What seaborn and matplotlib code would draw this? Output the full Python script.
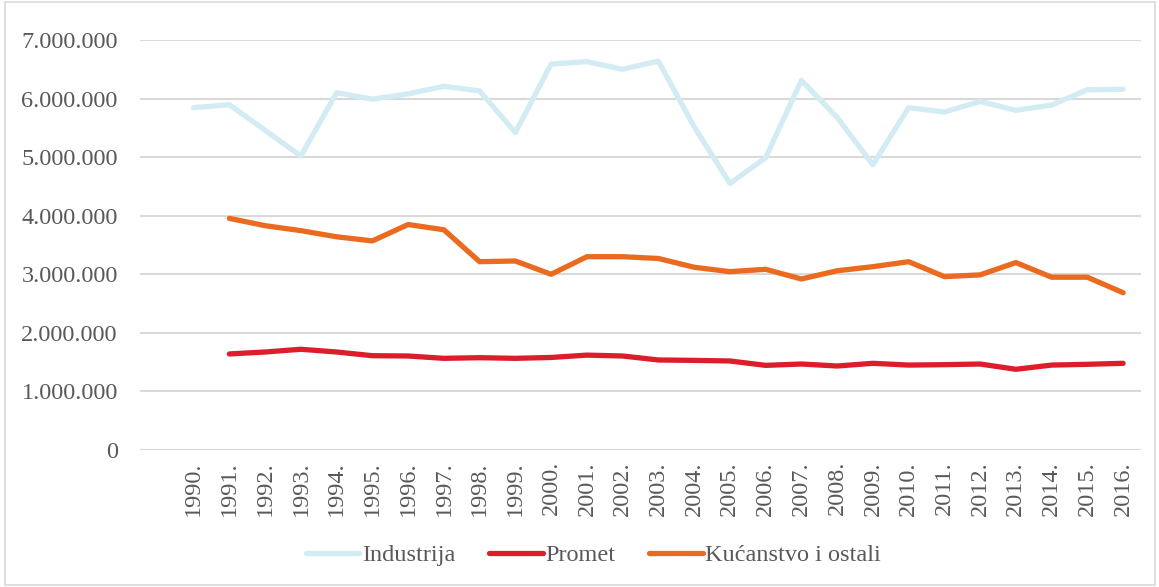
import numpy as np
import pandas as pd
import matplotlib
matplotlib.use("Agg")
import matplotlib.pyplot as plt
import seaborn as sns
from matplotlib.patches import Rectangle
from matplotlib.ticker import FuncFormatter

# Data
years = list(range(1990, 2017))
year_labels = [f"{y}." for y in years]

industrija = [5845000, 5896000, 5458000, 5020000, 6100000, 5990000, 6080000, 6210000, 6130000,
              5420000, 6590000, 6630000, 6500000, 6640000, 5520000, 4550000, 4990000, 6310000,
              5680000, 4870000, 5845000, 5770000, 5950000, 5800000, 5890000, 6150000, 6160000]
promet = [np.nan, 1640000, 1673000, 1720000, 1673000, 1610000, 1605000, 1565000, 1576000,
          1565000, 1580000, 1620000, 1605000, 1537000, 1530000, 1520000, 1445000, 1468000,
          1434000, 1480000, 1450000, 1457000, 1468000, 1378000, 1450000, 1463000, 1480000]
kucanstvo = [np.nan, 3955000, 3830000, 3745000, 3640000, 3570000, 3850000, 3760000, 3215000,
             3227000, 3000000, 3300000, 3300000, 3270000, 3120000, 3045000, 3085000, 2920000,
             3060000, 3130000, 3215000, 2960000, 2990000, 3200000, 2950000, 2950000, 2685000]

series_names = ["Industrija", "Promet", "Kućanstvo i ostali"]
colors = ["#d3ebf2", "#dc1e2a", "#ea6a20"]

# long format, x = slot index (slot 0 left empty like in the original)
rows = []
for name, vals in zip(series_names, [industrija, promet, kucanstvo]):
    for i, v in enumerate(vals):
        rows.append({"pos": i + 1, "value": v, "serie": name})
df = pd.DataFrame(rows).dropna()

sns.set_theme(style="white")
plt.rcParams["font.family"] = ["Liberation Serif", "DejaVu Serif"]

fig = plt.figure(figsize=(11.59, 5.87), dpi=100)
ax = fig.add_axes([140 / 1159, 1 - 450 / 587, 1001 / 1159, 410 / 587])

sns.lineplot(data=df, x="pos", y="value", hue="serie", hue_order=series_names,
             palette=dict(zip(series_names, colors)), linewidth=3.8,
             solid_capstyle="round", solid_joinstyle="round", legend=False, ax=ax, zorder=3)

ax.set_xlim(-0.5, 27.5)
ax.set_ylim(0, 7000000)
ax.set_yticks(np.arange(0, 7000001, 1000000))
ax.yaxis.set_major_formatter(FuncFormatter(lambda v, p: f"{int(v):,}".replace(",", ".")))
ax.set_xticks(range(1, 28))
ax.set_xticklabels(year_labels, rotation=90)
ax.set_xlabel("")
ax.set_ylabel("")
ax.grid(axis="y", color="#d9d9d9", linewidth=1.5, zorder=0)
ax.grid(axis="x", visible=False)
for s in ax.spines.values():
    s.set_visible(False)
ax.tick_params(axis="both", length=0, colors="#595959", labelsize=17.5)
ax.tick_params(axis="y", pad=16)
ax.tick_params(axis="x", pad=8)

handles = [plt.Line2D([0], [0], color=c, linewidth=3.8, solid_capstyle="round") for c in colors]
fig.legend(handles, series_names, loc="center", bbox_to_anchor=(0.512, 1 - 555 / 587),
           ncol=3, frameon=False, fontsize=17.5, handlelength=2.2, handletextpad=0.1,
           columnspacing=1.4, labelcolor="#595959")

# thin frame around the chart area
fig.patches.append(Rectangle((5 / 1159, 2 / 587), 1150 / 1159, 583 / 587, transform=fig.transFigure,
                             fill=False, edgecolor="#d9d9d9", linewidth=1.2))

fig.savefig("out.png", dpi=100)
